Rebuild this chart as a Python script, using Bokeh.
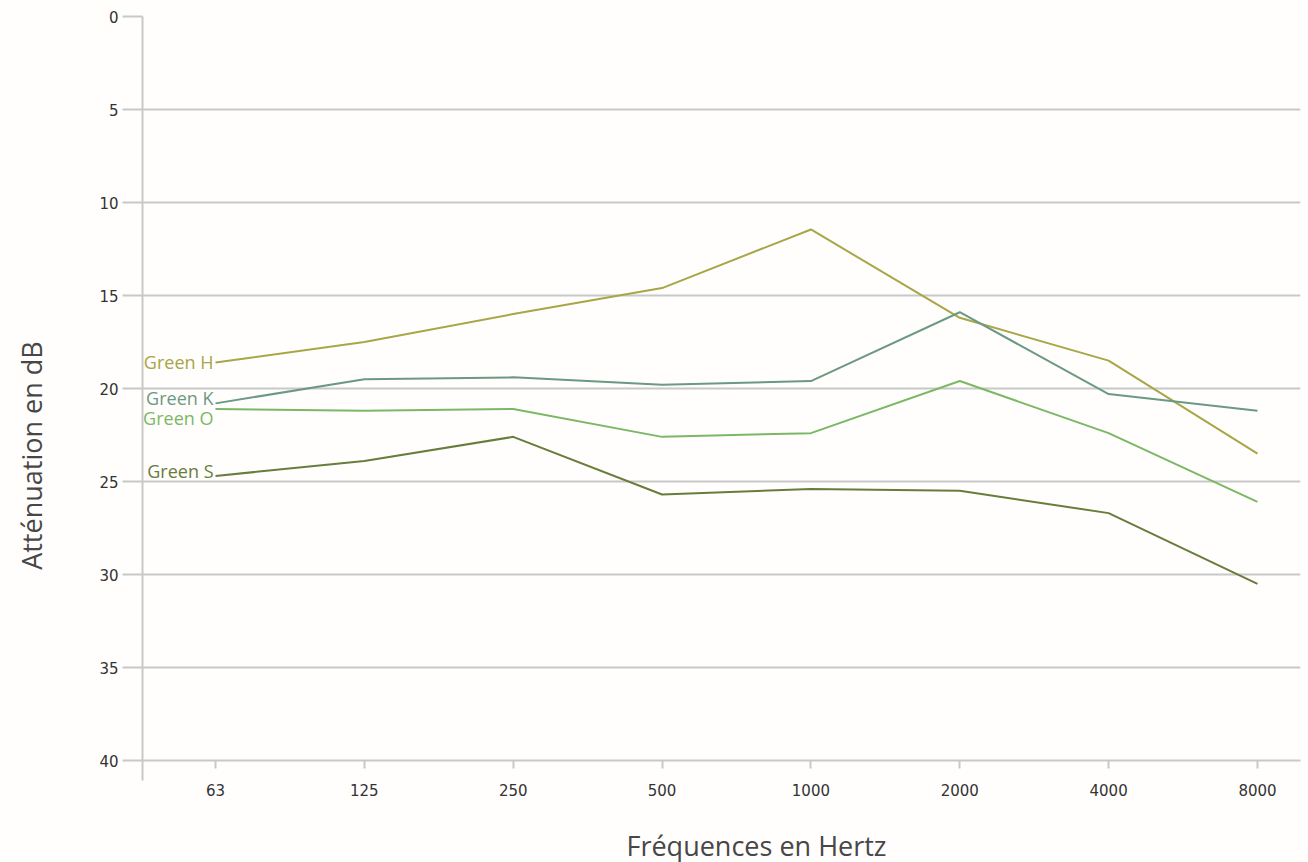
import math
from bokeh.plotting import figure
from bokeh.layouts import row, column
from bokeh.models import Range1d, FixedTicker
from bokeh.core.properties import value
from bokeh.embed import file_html
from bokeh.resources import INLINE

frequencies = ["63", "125", "250", "500", "1000", "2000", "4000", "8000"]
green_h = [18.6, 17.5, 16.0, 14.6, 11.45, 16.2, 18.5, 23.5]
green_k = [20.8, 19.5, 19.4, 19.8, 19.6, 15.9, 20.3, 21.2]
green_o = [21.1, 21.2, 21.1, 22.6, 22.4, 19.6, 22.4, 26.1]
green_s = [24.7, 23.9, 22.6, 25.7, 25.4, 25.5, 26.7, 30.5]
series_names = ["Green H", "Green K", "Green O", "Green S"]
y_ticks = [0, 5, 10, 15, 20, 25, 30, 35, 40]
x_title = "Fréquences en Hertz"
y_title = "Atténuation en dB"

colors = ["#a8a646", "#6b9983", "#7bb866", "#687c3b"]
label_dy = [0, -5, 9, -5]
BG = "#fffefc"
GRID = "#c8c8c8"
TITLE_COLOR = "#474747"

xs = list(range(len(frequencies)))
x_start, x_end = -0.4904, 7.289

W, H = 1308, 862
LEFT_W = 60
BOTTOM_H = 52


def blank(width, height):
    f = figure(width=width, height=height, output_backend="svg", toolbar_location=None,
               x_range=Range1d(0, width), y_range=Range1d(height, 0),
               min_border_left=0, min_border_right=0, min_border_top=0, min_border_bottom=0)
    f.axis.visible = False
    f.grid.visible = False
    f.outline_line_color = None
    f.background_fill_color = BG
    f.border_fill_color = BG
    return f


# main chart
p = figure(width=W - LEFT_W, height=H - BOTTOM_H, output_backend="svg", toolbar_location=None,
           title=None,
           x_range=Range1d(x_start, x_end), y_range=Range1d(40, 0),
           min_border_left=82, min_border_right=8, min_border_top=16,
           min_border_bottom=50)
p.background_fill_color = BG
p.border_fill_color = BG
p.outline_line_color = None

p.yaxis.ticker = FixedTicker(ticks=y_ticks)
p.yaxis.axis_line_color = GRID
p.yaxis.axis_line_width = 2
p.yaxis.major_tick_line_color = GRID
p.yaxis.major_tick_line_width = 2
p.yaxis.major_tick_out = 20
p.yaxis.major_tick_in = 0
p.yaxis.minor_tick_line_color = None
p.yaxis.major_label_standoff = 4
p.yaxis.major_label_text_font = "DejaVu Sans"
p.yaxis.major_label_text_font_size = "15px"
p.yaxis.major_label_text_color = "#333333"

p.xaxis.ticker = FixedTicker(ticks=xs, minor_ticks=[x_start + 0.0005])
p.xaxis.major_label_overrides = {i: f for i, f in enumerate(frequencies)}
p.xaxis.axis_line_color = GRID
p.xaxis.axis_line_width = 2
p.xaxis.major_tick_line_color = GRID
p.xaxis.major_tick_line_width = 2
p.xaxis.major_tick_out = 8
p.xaxis.major_tick_in = 0
p.xaxis.minor_tick_line_color = GRID
p.xaxis.minor_tick_line_width = 2
p.xaxis.minor_tick_out = 20
p.xaxis.minor_tick_in = 0
p.xaxis.major_label_standoff = 3
p.xaxis.major_label_text_font = "DejaVu Sans"
p.xaxis.major_label_text_font_size = "15px"
p.xaxis.major_label_text_color = "#333333"

p.xgrid.grid_line_color = None
p.ygrid.ticker = FixedTicker(ticks=y_ticks)
p.ygrid.grid_line_color = GRID
p.ygrid.grid_line_width = 2

for name, vals, c, dy in zip(series_names, [green_h, green_k, green_o, green_s], colors, label_dy):
    p.line(xs, vals, line_color=c, line_width=2)
    p.text(x=[xs[0]], y=[vals[0]], text=[name], text_align="right",
           text_baseline="middle", x_offset=-2, y_offset=dy,
           text_color=c, text_font=value("Open Sans"), text_font_size="18px")

# y title strip (left)
ly = blank(LEFT_W, H - BOTTOM_H)
ly.text(x=[31], y=[478], text=[y_title], angle=math.pi / 2,
        text_align="center", text_baseline="middle",
        text_color=TITLE_COLOR, text_font=value("Open Sans"), text_font_size="27px")

# x title strip (bottom)
bx = blank(W, BOTTOM_H)
bx.text(x=[756], y=[844.5 - (H - BOTTOM_H)], text=[x_title],
        text_align="center", text_baseline="middle",
        text_color=TITLE_COLOR, text_font=value("Open Sans"), text_font_size="27px")

layout = column(row(ly, p, spacing=0), bx, spacing=0)
open("out.html", "w").write(file_html(layout, INLINE))
